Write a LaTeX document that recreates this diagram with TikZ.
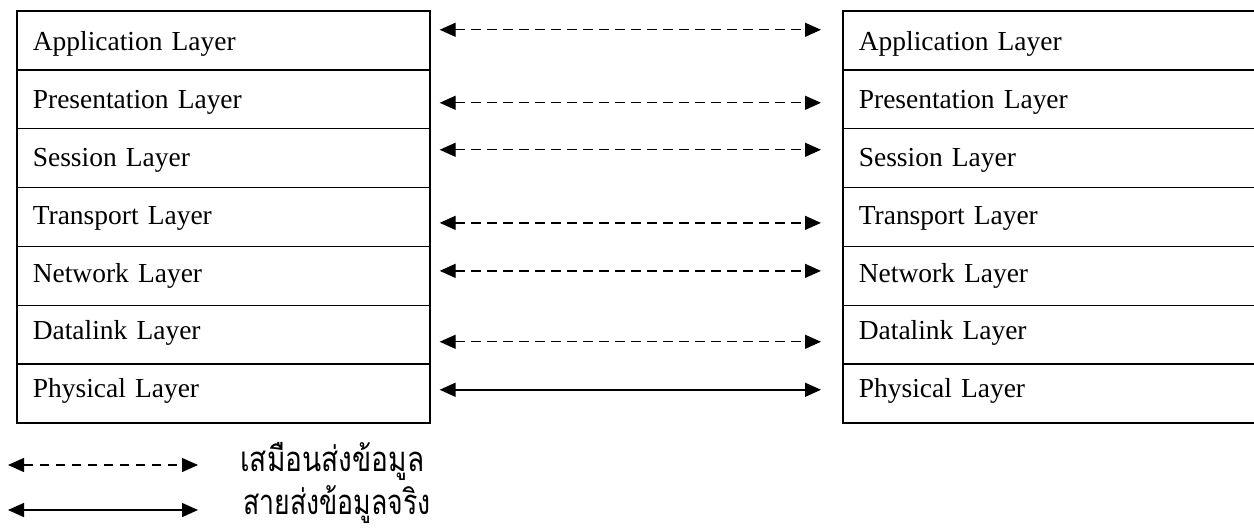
\documentclass[tikz,border=0pt]{standalone}
\usepackage{fontspec}
\setmainfont{Liberation Serif}
\newfontfamily\thaifont[Script=Thai]{Loma}
\usetikzlibrary{arrows.meta,calc}
\begin{document}
\begin{tikzpicture}[x=0.75pt,y=-0.75pt,
  layer/.style={draw,line width=1.25pt,anchor=north west,minimum height=44.175pt,
    text width=285.75pt,inner xsep=12pt,inner ysep=0pt,align=left,
    font=\fontsize{20.6}{22}\selectfont},
  rlayer/.style={layer,text width=300pt},
  virt/.style={line width=1pt,dash pattern=on 7pt off 5pt,
    {Triangle[length=12pt,width=10.5pt]}-{Triangle[length=12pt,width=10.5pt]}},
  real/.style={line width=1.1pt,
    {Triangle[length=12pt,width=10.5pt]}-{Triangle[length=12pt,width=10.5pt]}},
  legend/.style={anchor=base west,inner sep=0pt,font=\thaifont\fontsize{26}{28}\selectfont}
]
\clip (0,0) rectangle (1254,529);
\foreach \t [count=\i] in {Application Layer,Presentation Layer,Session Layer,Transport Layer,Network Layer,Datalink Layer,Physical Layer}{
  \pgfmathsetmacro{\th}{(40-1.1*(\i-1))*0.75}
  \pgfmathsetmacro{\td}{44.175-\th}
  \node[layer,text height=\th pt,text depth=\td pt] (L\i) at (16,{10+58.9*(\i-1)}) {\t};
  \node[rlayer,text height=\th pt,text depth=\td pt] (R\i) at (842,{10+58.9*(\i-1)}) {\t};
}
\foreach \i/\dy in {1/-10.5,2/3.6,3/-8.3,4/5.9,5/-5,6/7}{
  \draw[virt] ($(L\i.east)+(9,\dy)$) -- ($(L\i.east -| R\i.west)+(-21,\dy)$);
}
\draw[real] ($(L7.east)+(9,-3.9)$) -- ($(L7.east -| R7.west)+(-21,-3.9)$);
\coordinate (v1) at (8,465);
\coordinate (v2) at (198,465);
\coordinate (r1) at (8,510);
\coordinate (r2) at (198,510);
\draw[virt] (v1) -- (v2);
\draw[real] (r1) -- (r2);
\node[legend] (tv) at (240,471) {\scalebox{0.81}[1]{เสมือนส่งข้อมูล}};
\node[legend] (tr) at (243,514) {\scalebox{0.77}[1]{สายส่งข้อมูลจริง}};
\end{tikzpicture}
\end{document}
